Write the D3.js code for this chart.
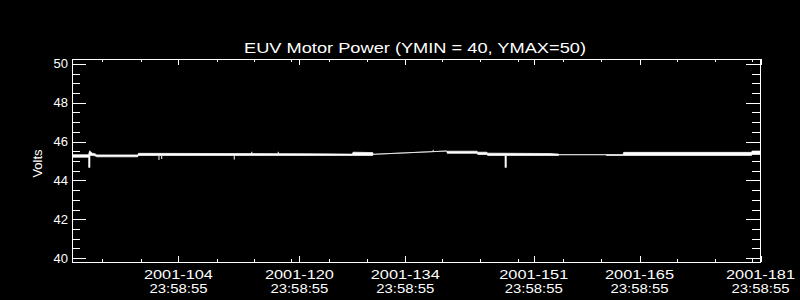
<!DOCTYPE html>
<html><head><meta charset="utf-8">
<script src="https://cdn.jsdelivr.net/npm/d3@7"></script>
<style>html,body{margin:0;padding:0;background:#000;} svg{display:block;}</style>
</head><body>
<svg id="c" width="800" height="300"></svg>
<script>
// ---- data ----
const chartTitle = "EUV Motor Power (YMIN = 40, YMAX=50)";
const yTitle = "Volts";
const xMajorDays = [104, 120, 134, 151, 165, 181];
const xMajorDates = ["2001-104", "2001-120", "2001-134", "2001-151", "2001-165", "2001-181"];
const xMajorTimes = ["23:58:55", "23:58:55", "23:58:55", "23:58:55", "23:58:55", "23:58:55"];
const xMinorDays = [93.9, 99.0, 109.05, 113.95, 118.9, 123.95, 129.0, 138.9, 143.95, 148.95, 154.9, 159.95, 170.0, 175.0, 179.9];
const yMajor = [40, 42, 44, 46, 48, 50];
const yMajorLabels = ["40", "42", "44", "46", "48", "50"];
const yMinor = [40.5, 41, 41.5, 42.5, 43, 43.5, 44.5, 45, 45.5, 46.5, 47, 47.5, 48.5, 49, 49.5];

// envelope of the dense motor-power series (day of year, min volts, max volts)
const envDay = [89.98, 92.10, 92.25, 92.45, 92.60, 92.95, 93.20, 98.60, 98.70, 121.40, 127.00, 127.10, 129.70, 129.75, 139.50, 139.55, 143.50, 143.60, 144.80, 144.90, 153.15, 154.30, 154.35, 160.55, 160.60, 162.80, 162.90, 179.80, 179.90, 181.00];
const envLo  = [45.22, 45.22, 45.31, 45.31, 45.31, 45.29, 45.24, 45.24, 45.31, 45.31, 45.31, 45.31, 45.31, 45.37, 45.54, 45.42, 45.42, 45.36, 45.36, 45.31, 45.31, 45.31, 45.35, 45.35, 45.31, 45.31, 45.31, 45.31, 45.36, 45.36];
const envHi  = [45.35, 45.35, 45.55, 45.48, 45.43, 45.40, 45.34, 45.34, 45.42, 45.40, 45.38, 45.48, 45.46, 45.37, 45.54, 45.53, 45.53, 45.48, 45.48, 45.43, 45.41, 45.38, 45.35, 45.35, 45.36, 45.36, 45.47, 45.47, 45.54, 45.54];

// isolated excursions
const spikeDay  = [92.20, 101.42, 101.78, 111.38, 113.70, 117.20, 137.70, 147.29];
const spikeFrom = [45.30, 45.30, 45.30, 45.30, 45.40, 45.40, 45.54, 45.30];
const spikeTo   = [44.68, 45.08, 45.13, 45.10, 45.50, 45.50, 45.60, 44.68];

// ---- layout ----
const L = 72.5, R = 760.5, T = 59.5, B = 262.5;
const x = d3.scaleLinear().domain([89.98, 181]).range([L, R]);
const y = d3.scaleLinear().domain([39.805, 50.247]).range([B, T]);

const svg = d3.select("#c");
svg.append("rect").attr("width", 800).attr("height", 300).attr("fill", "#000");

const font = "'Liberation Sans', Arial, sans-serif";
const white = "#fff";

function styleAxis(g) {
  g.select(".domain").remove();
  g.selectAll(".tick line").attr("stroke", white).attr("shape-rendering", "crispEdges");
  g.selectAll(".tick text").attr("fill", white).attr("font-family", font).attr("font-size", 13);
}

// frame
svg.append("rect").attr("x", L).attr("y", T).attr("width", R - L).attr("height", B - T)
  .attr("fill", "none").attr("stroke", white).attr("stroke-width", 1).attr("shape-rendering", "crispEdges");

// bottom axis ticks (inward)
svg.append("g").attr("transform", `translate(0,${B - 0.5})`)
  .call(d3.axisBottom(x).tickValues(xMajorDays).tickSizeInner(-6).tickSizeOuter(0).tickFormat(""))
  .call(styleAxis);
svg.append("g").attr("transform", `translate(0,${B - 0.5})`)
  .call(d3.axisBottom(x).tickValues(xMinorDays).tickSizeInner(-3).tickSizeOuter(0).tickFormat(""))
  .call(styleAxis);
// top axis ticks (inward)
svg.append("g").attr("transform", `translate(0,${T - 0.5})`)
  .call(d3.axisTop(x).tickValues(xMajorDays).tickSizeInner(-6).tickSizeOuter(0).tickFormat(""))
  .call(styleAxis);
svg.append("g").attr("transform", `translate(0,${T - 0.5})`)
  .call(d3.axisTop(x).tickValues(xMinorDays).tickSizeInner(-3).tickSizeOuter(0).tickFormat(""))
  .call(styleAxis);

// left axis
svg.append("g").attr("transform", `translate(${L - 0.5},-0.5)`)
  .call(d3.axisLeft(y).tickValues(yMajor).tickSizeInner(-14).tickSizeOuter(0).tickPadding(4)
    .tickFormat((d, i) => yMajorLabels[i]))
  .call(styleAxis);
svg.append("g").attr("transform", `translate(${L - 0.5},-0.5)`)
  .call(d3.axisLeft(y).tickValues(yMinor).tickSizeInner(-8).tickSizeOuter(0).tickFormat(""))
  .call(styleAxis);
// right axis
svg.append("g").attr("transform", `translate(${R - 0.5},-0.5)`)
  .call(d3.axisRight(y).tickValues(yMajor).tickSizeInner(-14).tickSizeOuter(0).tickFormat(""))
  .call(styleAxis);
svg.append("g").attr("transform", `translate(${R - 0.5},-0.5)`)
  .call(d3.axisRight(y).tickValues(yMinor).tickSizeInner(-8).tickSizeOuter(0).tickFormat(""))
  .call(styleAxis);

// x labels (two lines)
const xl = svg.append("g").attr("fill", white).attr("font-family", font).attr("font-size", 13).attr("text-anchor", "middle");
xl.selectAll("text.d").data(xMajorDays).join("text").attr("class", "d")
  .attr("x", d => x(d)).attr("y", 279)
  .attr("textLength", 69).attr("lengthAdjust", "spacingAndGlyphs")
  .text((d, i) => xMajorDates[i]);
xl.selectAll("text.t").data(xMajorDays).join("text").attr("class", "t")
  .attr("x", d => x(d)).attr("y", 293)
  .attr("textLength", 58).attr("lengthAdjust", "spacingAndGlyphs")
  .text((d, i) => xMajorTimes[i]);

// y title
svg.append("text").attr("transform", "translate(41.5,163.5) rotate(-90)")
  .attr("text-anchor", "middle").attr("fill", white).attr("font-family", font).attr("font-size", 13)
  .text(yTitle);

// title
svg.append("text").attr("x", 415).attr("y", 52.5).attr("text-anchor", "middle")
  .attr("fill", white).attr("font-family", font).attr("font-size", 15)
  .attr("textLength", 342).attr("lengthAdjust", "spacingAndGlyphs")
  .text(chartTitle);

// data envelope
const idx = d3.range(envDay.length);
const area = d3.area()
  .x(i => x(envDay[i]))
  .y0(i => y(envLo[i]))
  .y1(i => y(envHi[i]));
svg.append("path").attr("d", area(idx))
  .attr("fill", white).attr("stroke", white).attr("stroke-width", 0.7).attr("stroke-linejoin", "round");

// spikes
svg.append("g").selectAll("line").data(d3.range(spikeDay.length)).join("line")
  .attr("x1", i => x(spikeDay[i])).attr("x2", i => x(spikeDay[i]))
  .attr("y1", i => y(spikeFrom[i])).attr("y2", i => y(spikeTo[i]))
  .attr("stroke", white)
  .attr("stroke-width", i => Math.abs(spikeFrom[i] - spikeTo[i]) > 0.4 ? 2 : 1);
</script>
</body></html>
